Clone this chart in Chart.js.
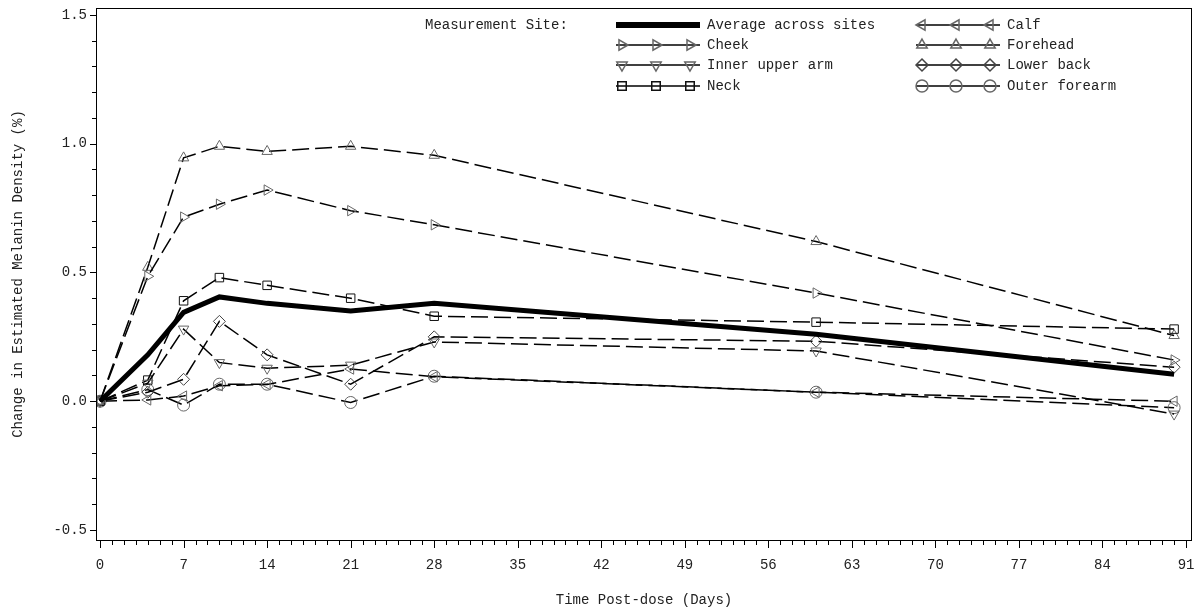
<!DOCTYPE html>
<html>
<head>
<meta charset="utf-8">
<script src="https://cdn.jsdelivr.net/npm/chart.js@4/dist/chart.umd.min.js"></script>
<style>
  body { margin: 0; background: #fff; }
</style>
</head>
<body>
<canvas id="melanin_chart" width="1204" height="612"></canvas>
<script>
// days after dosing
const days = [0, 4, 7, 10, 14, 21, 28, 60, 90];

const average      = [0, 0.18, 0.345, 0.405, 0.38, 0.35, 0.38, 0.26, 0.105];
const cheek        = [0, 0.485, 0.715, 0.765, 0.82, 0.74, 0.685, 0.42, 0.16];
const innerArm     = [0, 0.07, 0.28, 0.15, 0.128, 0.14, 0.23, 0.195, -0.05];
const neck         = [0, 0.082, 0.39, 0.48, 0.45, 0.40, 0.33, 0.307, 0.28];
const calf         = [0, 0.005, 0.02, 0.06, 0.065, 0.125, 0.095, 0.035, 0.0];
const forehead     = [0, 0.52, 0.945, 0.99, 0.97, 0.99, 0.955, 0.62, 0.255];
const lowerBack    = [0, 0.035, 0.085, 0.31, 0.18, 0.066, 0.25, 0.233, 0.132];
const outerForearm = [0, 0.045, -0.015, 0.066, 0.066, -0.005, 0.097, 0.035, -0.025];

const xTicks = [0, 7, 14, 21, 28, 35, 42, 49, 56, 63, 70, 77, 84, 91];
const yTicks = [-0.5, 0, 0.5, 1.0, 1.5];

const FONT = { family: "'Liberation Mono', 'DejaVu Sans Mono', monospace", size: 14 };
const TEXT = "#222";
const DASH = [17, 6];

const pts = (vals) => days.map((d, i) => ({ x: d, y: vals[i] }));

function site(label, vals, style, rot, col) {
    return {
        label: label,
        data: pts(vals),
        borderColor: "#000",
        borderWidth: 1.5,
        borderDash: DASH,
        pointStyle: style,
        pointRotation: rot,
        pointRadius: 6,
        pointBorderWidth: 1,
        pointBorderColor: col,
        pointBackgroundColor: "rgba(255,255,255,0)",
        tension: 0,
        fill: false,
    };
}

const datasets = [
    {
        label: "Average across sites",
        data: pts(average),
        borderColor: "#000",
        borderWidth: 5,
        pointRadius: 0,
        tension: 0,
        fill: false,
    },
    site("Cheek", cheek, "triangle", 90, "#666"),
    site("Inner upper arm", innerArm, "triangle", 180, "#666"),
    site("Neck", neck, "rect", 0, "#111"),
    site("Calf", calf, "triangle", 270, "#666"),
    site("Forehead", forehead, "triangle", 0, "#666"),
    site("Lower back", lowerBack, "rectRot", 0, "#444"),
    site("Outer forearm", outerForearm, "circle", 0, "#666"),
];

// frame, minor/major tick marks and the SAS-style legend
const decor = {
    id: "decor",
    afterDraw(chart) {
        const { ctx, chartArea: a, scales: { x, y } } = chart;
        ctx.save();
        ctx.strokeStyle = "#000";
        ctx.lineWidth = 1;
        ctx.setLineDash([]);
        ctx.strokeRect(a.left + 0.5, a.top + 0.5, a.right - a.left - 1, a.bottom - a.top);

        ctx.beginPath();
        for (let d = 0; d <= 91; d++) {
            const px = Math.round(x.getPixelForValue(d)) + 0.5;
            const len = d % 7 === 0 ? 7 : 4;
            ctx.moveTo(px, a.bottom + 1);
            ctx.lineTo(px, a.bottom + 1 + len);
        }
        for (let k = -5; k <= 15; k++) {
            const py = Math.round(y.getPixelForValue(k / 10)) + 0.5;
            const len = k % 5 === 0 ? 6 : 4;
            ctx.moveTo(a.left, py);
            ctx.lineTo(a.left - len, py);
        }
        ctx.stroke();

        // legend
        ctx.font = FONT.size + "px " + FONT.family;
        ctx.fillStyle = TEXT;
        ctx.textBaseline = "middle";
        ctx.fillText("Measurement Site:", 425, 25);
        const rows = [25, 45, 65, 86];
        const cols = [616, 916];
        chart.data.datasets.forEach((ds, i) => {
            const cx = cols[Math.floor(i / 4)];
            const cy = rows[i % 4];
            ctx.save();
            ctx.strokeStyle = "#000";
            if (i === 0) {
                ctx.lineWidth = 6;
                ctx.beginPath();
                ctx.moveTo(cx, cy);
                ctx.lineTo(cx + 84, cy);
                ctx.stroke();
            } else {
                ctx.lineWidth = 1.5;
                ctx.beginPath();
                ctx.moveTo(cx, cy);
                ctx.lineTo(cx + 84, cy);
                ctx.stroke();
                ctx.strokeStyle = ds.pointBorderColor;
                ctx.fillStyle = "rgba(255,255,255,0)";
                [6, 40, 74].forEach((dx) => {
                    Chart.helpers.drawPoint(ctx, {
                        pointStyle: ds.pointStyle,
                        rotation: ds.pointRotation,
                        radius: 6,
                        borderWidth: 1,
                    }, cx + dx, cy);
                });
            }
            ctx.restore();
            ctx.fillStyle = TEXT;
            ctx.fillText(ds.label, cx + 91, cy);
        });
        ctx.restore();
    },
};

const ctx = document.getElementById("melanin_chart").getContext("2d");

new Chart(ctx, {
    type: "line",
    data: { datasets: datasets },
    options: {
        responsive: false,
        animation: false,
        layout: { padding: { top: 8, right: 12, left: 0, bottom: 0 } },
        plugins: {
            legend: { display: false },
            tooltip: { enabled: false },
        },
        scales: {
            x: {
                type: "linear",
                min: -0.34,
                max: 91.5,
                grid: { display: false, drawTicks: false },
                border: { display: false },
                afterBuildTicks: (s) => { s.ticks = xTicks.map((v) => ({ value: v })); },
                afterFit: (s) => {
                    s.height = 72;
                    s.paddingLeft = 0;
                    s.paddingRight = 0;
                },
                ticks: {
                    padding: 17,
                    font: FONT,
                    color: TEXT,
                    maxRotation: 0,
                    autoSkip: false,
                    callback: (v) => String(v),
                },
                title: {
                    display: true,
                    text: "Time Post-dose (Days)",
                    font: FONT,
                    color: TEXT,
                    padding: { top: 4, bottom: 3 },
                },
            },
            y: {
                min: -0.539,
                max: 1.527,
                grid: { display: false, drawTicks: false },
                border: { display: false },
                afterBuildTicks: (s) => { s.ticks = yTicks.map((v) => ({ value: v })); },
                afterFit: (s) => {
                    s.width = 96;
                    s.paddingTop = 0;
                    s.paddingBottom = 0;
                },
                ticks: {
                    padding: 9,
                    font: FONT,
                    color: TEXT,
                    callback: (v) => v.toFixed(1),
                },
                title: {
                    display: true,
                    text: "Change in Estimated Melanin Density (%)",
                    font: FONT,
                    color: TEXT,
                    padding: { top: 10, bottom: 0 },
                },
            },
        },
    },
    plugins: [decor],
});
</script>
</body>
</html>
